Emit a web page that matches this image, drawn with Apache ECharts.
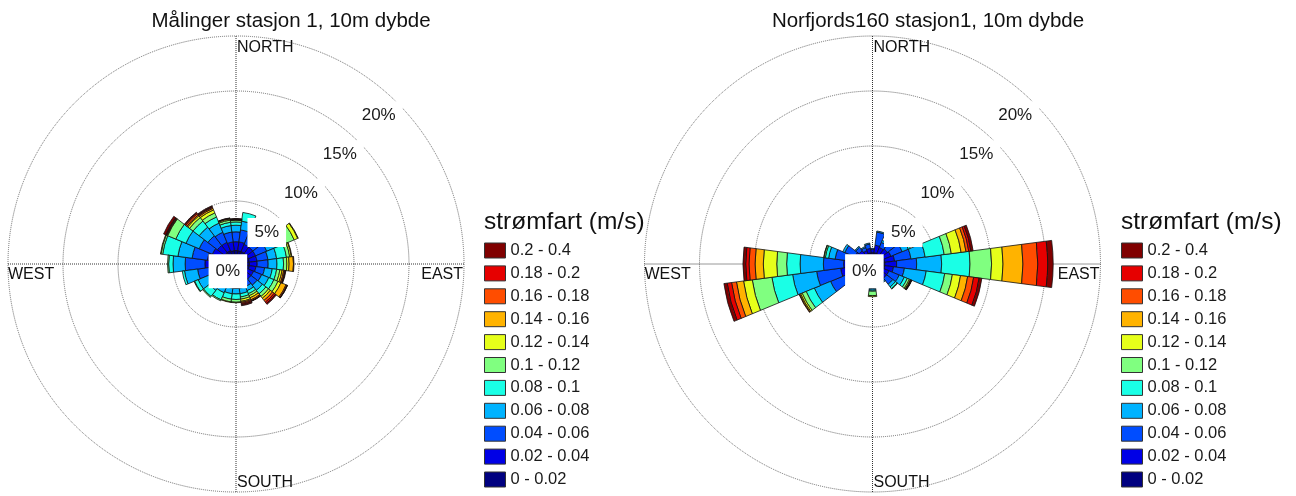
<!DOCTYPE html>
<html>
<head>
<meta charset="utf-8">
<script src="https://cdn.jsdelivr.net/npm/echarts@6/dist/echarts.min.js"></script>
<style>
html,body{margin:0;padding:0;background:#fff;}
#chart{width:1296px;height:496px;}
</style>
</head>
<body>
<div id="chart"></div>
<script>
// ---------------- DATA ----------------
const directions = ['0','15','30','45','60','75','90','105','120','135','150','165',
                    '180','195','210','225','240','255','270','285','300','315','330','345'];
const speedClasses = ['0 - 0.02','0.02 - 0.04','0.04 - 0.06','0.06 - 0.08','0.08 - 0.1',
                      '0.1 - 0.12','0.12 - 0.14','0.14 - 0.16','0.16 - 0.18','0.18 - 0.2','0.2 - 0.4'];
const ringTicks = [0, 5, 10, 15, 20];
const ringLabels = ['0%', '5%', '10%', '15%', '20%'];
const compassLabels = ['NORTH', 'EAST', 'SOUTH', 'WEST'];
const titles = ['Målinger stasjon 1, 10m dybde', 'Norfjords160 stasjon1, 10m dybde'];
const legendTitle = 'strømfart (m/s)';

// Left rose (Målinger) — frequency (%) per direction bin, one array per speed class
const leftC0  = [0.5,0.5,0.5,0.5,0.5,0.5,0.5,0.5,0.4,0.4,0.4,0.4,0.4,0.4,0.4,0.4,0.5,0.6,0.8,0.7,0.6,0.6,0.6,0.5];
const leftC1  = [0.8,0.8,0.7,0.7,0.7,0.7,0.7,0.6,0.6,0.6,0.5,0.5,0.5,0.5,0.5,0.5,0.5,0.9,1.3,1.2,1.0,0.8,0.8,0.8];
const leftC2  = [0.9,1.1,1.0,1.0,1.1,1.0,1.0,0.8,0.8,0.7,0.6,0.6,0.6,0.6,0.6,0.7,0.9,1.3,1.8,1.4,1.3,1.1,1.0,0.9];
const leftC3  = [0.6,0.8,0.8,0.7,0.9,0.8,0.8,0.7,0.7,0.6,0.4,0.5,0.5,0.5,0.6,0.7,1.1,1.2,1.1,1.3,1.3,1.0,0.9,0.6];
const leftC4  = [0.3,0.8,0.5,0.4,1.0,0.9,0.6,0.4,0.5,0.4,0.3,0.3,0.5,0.5,0.7,0.7,0.35,0.2,0.4,1.4,1.0,0.7,0.6,0.3];
const leftC5  = [0.15,0,0.1,0.1,0.8,0.3,0.3,0.3,0.4,0.3,0.2,0.2,0.25,0.25,0.1,0.1,0.05,0,0.1,0.15,0.8,0.4,0.4,0.2];
const leftC6  = [0.05,0,0,0,0.35,0.15,0.2,0.2,0.3,0.2,0.2,0.2,0.05,0.05,0,0,0,0,0,0.05,0.05,0.2,0.3,0.1];
const leftC7  = [0.03,0,0,0,0.05,0.05,0.4,0.15,0.5,0.25,0.2,0.1,0,0,0,0,0,0,0,0,0.05,0.1,0.15,0.05];
const leftC8  = [0.02,0,0,0,0,0,0.05,0.1,0.1,0.2,0.1,0.1,0,0,0,0,0,0,0,0,0.05,0.15,0.1,0.02];
const leftC9  = [0.02,0,0,0,0,0,0,0.05,0.03,0.15,0.02,0.1,0,0,0,0,0,0,0,0,0.05,0.1,0.07,0.03];
const leftC10 = [0.03,0,0,0,0,0,0,0.05,0.02,0.1,0.03,0.1,0,0,0,0,0,0,0,0,0.2,0.05,0.08,0];

// Right rose (Norfjords160)
const rightC0  = [0.3,0.3,0.3,0.3,0.3,0.4,0.4,0.4,0.3,0.3,0.3,0.3,0.3,0.3,0.3,0.3,0.4,0.5,0.4,0.3,0.3,0.3,0.3,0.3];
const rightC1  = [0.3,0.7,0.6,0.7,0.8,0.9,1.07,0.8,0.6,0.6,0.4,0.3,0.6,0.3,0.4,0.6,1.0,1.7,1.5,0.9,0.7,0.5,0.3,0.4];
const rightC2  = [0.1,1.2,0.5,0.8,1.1,1.5,1.82,1.0,1.0,0.7,0.4,0.3,0.6,0.3,0.3,0.7,2.0,2.2,1.84,1.5,1.0,0.4,0.3,0.4];
const rightC3  = [0,0.1,0.2,0.3,0.6,1.3,2.27,2.0,0.5,0.3,0.1,0.1,0.15,0,0,0.3,1.6,2.2,2.12,0.6,0.2,0.1,0.1,0.1];
const rightC4  = [0,0,0,0.1,0.2,1.75,2.58,1.7,0.3,0.2,0,0,0.1,0,0,0,0.8,1.9,1.22,0.3,0,0,0,0];
const rightC5  = [0,0,0,0,0,0.65,1.96,0.7,0.2,0.05,0,0,0.4,0,0,0,0.4,1.8,0.9,0.12,0,0,0,0];
const rightC6  = [0,0,0,0,0,0.9,1.04,0.75,0.1,0,0,0,0.1,0,0,0,0.15,0.8,1.22,0.03,0,0,0,0];
const rightC7  = [0,0,0,0,0,0.45,1.81,0.65,0.05,0,0,0,0,0,0,0,0.1,0.65,0.75,0,0,0,0,0];
const rightC8  = [0,0,0,0,0,0.25,1.35,0.55,0.05,0,0,0,0,0,0,0,0.05,0.45,0.55,0,0,0,0,0];
const rightC9  = [0,0,0,0,0,0.2,0.9,0.5,0.02,0,0,0,0,0,0,0,0,0.4,0.3,0,0,0,0,0];
const rightC10 = [0,0,0,0,0,0.2,0.5,0.25,0.03,0,0,0,0,0,0,0,0,0.3,0.25,0,0,0,0,0];

// ---------------- STYLE / LAYOUT ----------------
const classColors = ['#000080','#0000e6','#004dff','#00b3ff','#1affe6','#80ff80',
                     '#e6ff1a','#ffb300','#ff4d00','#e60000','#800000'];
const FONT = '"Liberation Sans", Arial, Helvetica, sans-serif';
const roses = [
  {cx: 236,   cy: 264, titleX: 291, legendX: 484, data: [leftC0,leftC1,leftC2,leftC3,leftC4,leftC5,leftC6,leftC7,leftC8,leftC9,leftC10]},
  {cx: 872.5, cy: 264, titleX: 928, legendX: 1121, data: [rightC0,rightC1,rightC2,rightC3,rightC4,rightC5,rightC6,rightC7,rightC8,rightC9,rightC10]}
];
const R0 = 8, R1 = 228;

const polar = [], angleAxis = [], radiusAxis = [], series = [], legend = [], graphic = [];
const hidden = {axisLine:{show:false}, axisTick:{show:false}, axisLabel:{show:false}};

roses.forEach((rose, ri) => {
  const gi = ri * 2, bi = ri * 2 + 1;
  polar.push({center:[rose.cx, rose.cy], radius:[R0, R1]});
  polar.push({center:[rose.cx, rose.cy], radius:[R0, R1]});
  angleAxis.push(Object.assign({polarIndex: gi, type:'value', min:0, max:360, interval:90,
    startAngle:90, clockwise:true,
    splitLine:{show:true, lineStyle:{color:'#333', type:'dotted', width:1}}}, hidden));
  angleAxis.push(Object.assign({polarIndex: bi, type:'category', data: directions,
    startAngle: 90 + 360 / directions.length / 2, clockwise:true,
    splitLine:{show:false}}, hidden));
  radiusAxis.push(Object.assign({polarIndex: gi, type:'value', min:0, max:20, interval:5,
    splitLine:{show:true, lineStyle:{color:'#6a6a6a', type:'dotted', width:1}}}, hidden));
  radiusAxis.push(Object.assign({polarIndex: bi, type:'value', min:0, max:20,
    splitLine:{show:false}}, hidden));

  speedClasses.forEach((name, k) => {
    series.push({
      type:'bar', name, coordinateSystem:'polar', polarIndex: bi, stack:'rose' + ri,
      barCategoryGap:'0%', z:2, silent:true, animation:false,
      data: rose.data[k].map(v => v === 0 ? null : v),
      itemStyle:{color: classColors[k], borderColor:'#111', borderWidth:0.8}
    });
  });

  series.push({
    type:'scatter', coordinateSystem:'polar', polarIndex: gi, z:10, silent:true, animation:false,
    symbolSize:1, itemStyle:{color:'rgba(0,0,0,0)', opacity:1},
    data: ringTicks.map((v, i) => ({
      value:[v, 45],
      label: i === 0 ? {padding:[9,7,8,7]} : {}
    })),
    label:{show:true, position:[0,0], align:'right', verticalAlign:'middle', offset:[6,13.5],
      formatter: p => ringLabels[p.dataIndex], backgroundColor:'#fff', padding:[6,7,6,7],
      fontSize:17, lineHeight:17, color:'#1a1a1a', fontFamily: FONT}
  });

  legend.push({
    left: rose.legendX, top: 242, orient:'vertical', padding:0, height: 300,
    itemWidth:21, itemHeight:15, itemGap:5.9, selectedMode:false,
    data: speedClasses.slice().reverse(),
    icon:'rect',
    itemStyle:{borderColor:'#333', borderWidth:1},
    textStyle:{fontSize:16.5, lineHeight:15, color:'#1a1a1a', fontFamily: FONT}
  });

  const txt = (x, y, text, size, align) => ({
    type:'text', x, y, z:100, silent:true,
    style:{text, font: size + 'px ' + FONT, fill:'#111', textAlign: align, align: align,
           textVerticalAlign:'middle', verticalAlign:'middle'}
  });
  graphic.push(txt(rose.cx + 1, rose.cy - 216, compassLabels[0], 16, 'left'));
  graphic.push(txt(rose.cx + 227, rose.cy + 11, compassLabels[1], 16, 'right'));
  graphic.push(txt(rose.cx + 1, rose.cy + 219, compassLabels[2], 16, 'left'));
  graphic.push(txt(rose.cx - 228, rose.cy + 11, compassLabels[3], 16, 'left'));
  graphic.push(txt(rose.titleX, 21, titles[ri], 20.5, 'center'));
  graphic.push(txt(rose.legendX, 222, legendTitle, 24.5, 'left'));
});

const chart = echarts.init(document.getElementById('chart'), null, {renderer:'canvas'});
chart.setOption({
  backgroundColor:'#fff',
  animation:false,
  polar, angleAxis, radiusAxis, series, legend, graphic
});
</script>
</body>
</html>
